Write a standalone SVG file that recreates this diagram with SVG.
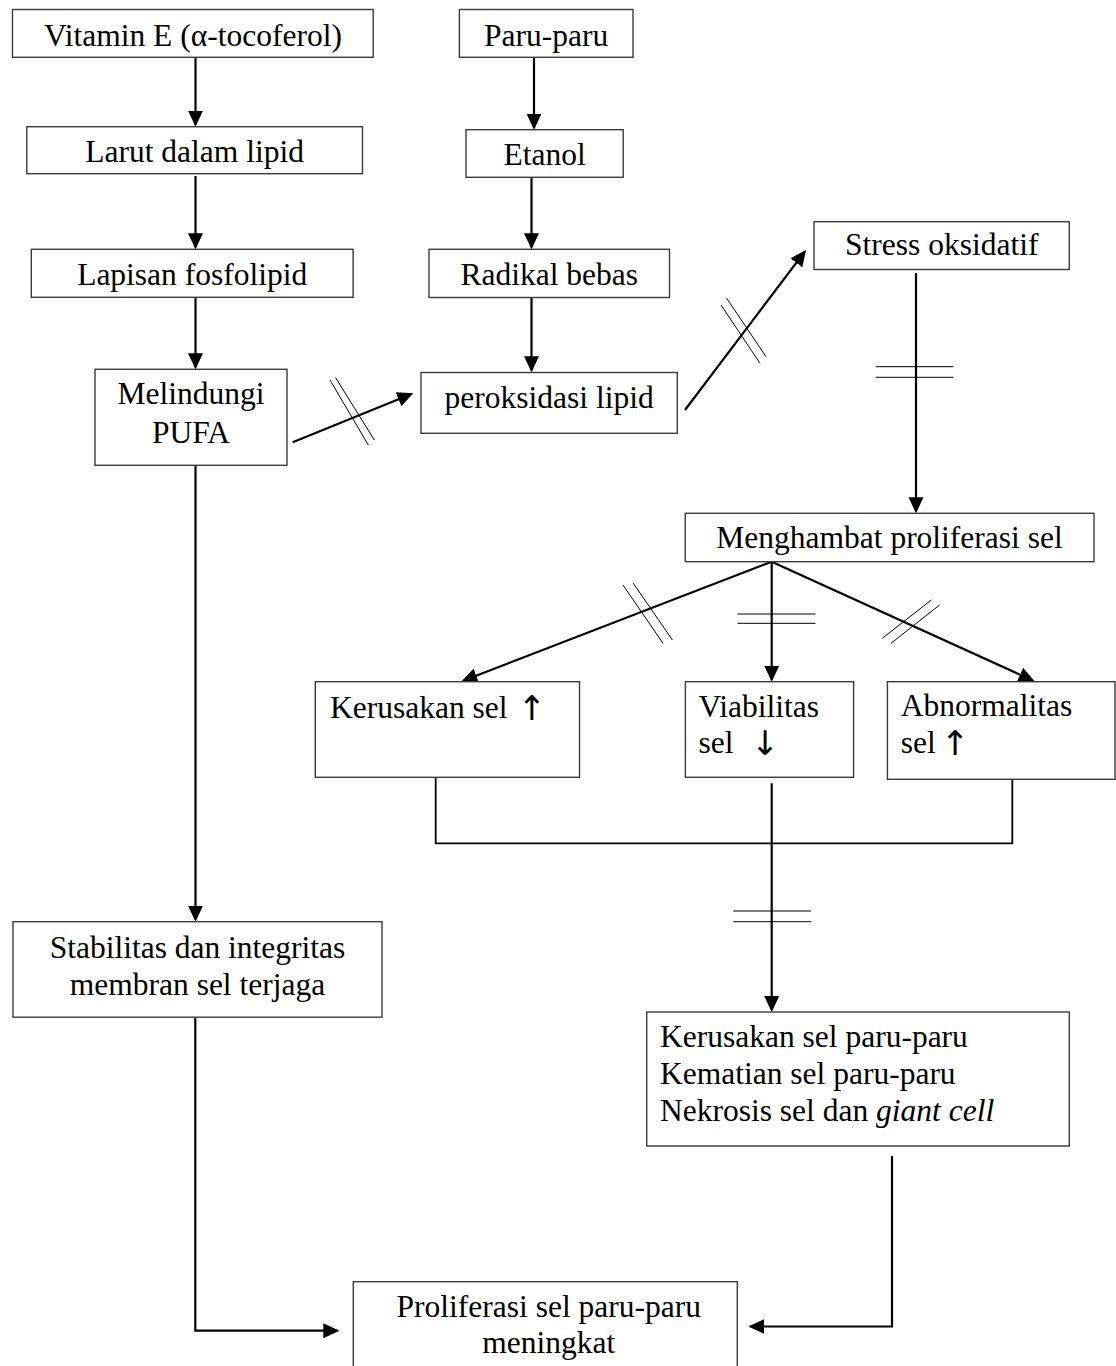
<svg xmlns="http://www.w3.org/2000/svg" width="1116" height="1366" viewBox="0 0 1116 1366">
<style>
  .box { fill: #ffffff; stroke: #3a3a3a; stroke-width: 1.4; }
  .t { font-family: "Liberation Serif", "Times New Roman", serif; font-size: 31.5px; fill: #000; }
  .c { text-anchor: middle; }
  .arw { font-family: "DejaVu Sans", sans-serif; font-size: 34px; }
  .con { fill: none; stroke: #000; stroke-width: 2.2; }
  .br { fill: none; stroke: #000; stroke-width: 1.8; }
  .hatch { fill: none; stroke: #000; stroke-width: 1; }
</style>
<defs>
  <marker id="ah" markerUnits="userSpaceOnUse" markerWidth="18" markerHeight="16" refX="14" refY="7.5" orient="auto">
    <path d="M0,0 L16,7.5 L0,15 z" fill="#000"/>
  </marker>
</defs>
<rect width="1116" height="1366" fill="#ffffff"/>

<g id="connectors">
  <line class="con" x1="195.5" y1="58" x2="195.5" y2="124.7" marker-end="url(#ah)"/>
  <line class="con" x1="195.5" y1="176" x2="195.5" y2="247.3" marker-end="url(#ah)"/>
  <line class="con" x1="195.5" y1="298" x2="195.5" y2="367.3" marker-end="url(#ah)"/>
  <line class="con" x1="195.5" y1="466" x2="195.5" y2="919.7" marker-end="url(#ah)"/>
  <line class="con" x1="534" y1="58" x2="534" y2="127.7" marker-end="url(#ah)"/>
  <line class="con" x1="531.5" y1="178" x2="531.5" y2="247.3" marker-end="url(#ah)"/>
  <line class="con" x1="531.5" y1="298" x2="531.5" y2="370.3" marker-end="url(#ah)"/>
  <line class="con" x1="292.7" y1="442.3" x2="411.5" y2="394" marker-end="url(#ah)"/>
  <line class="con" x1="685" y1="410" x2="804.8" y2="251.6" marker-end="url(#ah)"/>
  <line class="con" x1="916" y1="273" x2="916" y2="511.3" marker-end="url(#ah)"/>
  <line class="con" x1="771.7" y1="561.7" x2="463.2" y2="680.7" marker-end="url(#ah)"/>
  <line class="con" x1="771.7" y1="561.7" x2="771.7" y2="679.7" marker-end="url(#ah)"/>
  <line class="con" x1="771.7" y1="561.7" x2="1032.8" y2="680.5" marker-end="url(#ah)"/>
  <polyline class="br" points="435.7,771 435.7,843.3 1012.3,843.3 1012.3,776"/>
  <line class="con" x1="771.7" y1="783.3" x2="771.7" y2="1010" marker-end="url(#ah)"/>
  <polyline class="con" points="892,1156 892,1326.5 750.3,1326.5" marker-end="url(#ah)"/>
  <polyline class="con" points="195.3,1018 195.3,1330.7 337.3,1330.7" marker-end="url(#ah)"/>

  <g id="hatches">
    <line class="hatch" x1="330" y1="380" x2="368.3" y2="445"/>
    <line class="hatch" x1="335.5" y1="377.5" x2="374.3" y2="440"/>
    <line class="hatch" x1="721" y1="305" x2="760" y2="363.3"/>
    <line class="hatch" x1="726.7" y1="298.3" x2="766" y2="356.7"/>
    <line class="hatch" x1="876" y1="366.7" x2="953.3" y2="366.7"/>
    <line class="hatch" x1="876" y1="377.3" x2="953.3" y2="377.3"/>
    <line class="hatch" x1="623" y1="585" x2="663" y2="643.3"/>
    <line class="hatch" x1="633.3" y1="583.3" x2="672.4" y2="640"/>
    <line class="hatch" x1="737.5" y1="614" x2="815.6" y2="614"/>
    <line class="hatch" x1="737.5" y1="623.3" x2="815.6" y2="623.3"/>
    <line class="hatch" x1="882.3" y1="638.3" x2="931.3" y2="600"/>
    <line class="hatch" x1="891" y1="643.3" x2="939.6" y2="605"/>
    <line class="hatch" x1="733.3" y1="911" x2="811" y2="911"/>
    <line class="hatch" x1="733.3" y1="921.7" x2="811" y2="921.7"/>
  </g>
</g>

<g id="n-vitamin">
  <rect class="box" x="12.5" y="9.5" width="360.7" height="47.8"/>
  <text class="t c" x="192.9" y="45.7">Vitamin E (α-tocoferol)</text>
</g>
<g id="n-larut">
  <rect class="box" x="26.8" y="126.7" width="335.7" height="47"/>
  <text class="t c" x="194.6" y="162.3">Larut dalam lipid</text>
</g>
<g id="n-lapisan">
  <rect class="box" x="31.3" y="249.3" width="321.8" height="48"/>
  <text class="t c" x="192.2" y="285">Lapisan fosfolipid</text>
</g>
<g id="n-melindungi">
  <rect class="box" x="95" y="369.3" width="192" height="96"/>
  <text class="t c" x="191" y="404">Melindungi</text>
  <text class="t c" x="191" y="442.7">PUFA</text>
</g>
<g id="n-paru">
  <rect class="box" x="459.4" y="9.5" width="173.6" height="47.8"/>
  <text class="t c" x="546.2" y="45.7">Paru-paru</text>
</g>
<g id="n-etanol">
  <rect class="box" x="466" y="129.7" width="157.2" height="47.6"/>
  <text class="t c" x="544.6" y="165">Etanol</text>
</g>
<g id="n-radikal">
  <rect class="box" x="429" y="249.3" width="240.5" height="48.2"/>
  <text class="t c" x="549.2" y="285">Radikal bebas</text>
</g>
<g id="n-peroksidasi">
  <rect class="box" x="421" y="372.5" width="256.3" height="60.8"/>
  <text class="t c" x="549.1" y="408.3">peroksidasi lipid</text>
</g>
<g id="n-stress">
  <rect class="box" x="814" y="221.7" width="255.3" height="47.8"/>
  <text class="t c" x="941.7" y="255">Stress oksidatif</text>
</g>
<g id="n-menghambat">
  <rect class="box" x="685.2" y="513.3" width="408.8" height="48.4"/>
  <text class="t c" x="889.5" y="547.7">Menghambat proliferasi sel</text>
</g>
<g id="n-kerusakan">
  <rect class="box" x="315.3" y="681.7" width="264.2" height="95.6"/>
  <text class="t" x="330" y="717.5">Kerusakan sel <tspan class="arw" x="517.5" y="720">↑</tspan></text>
</g>
<g id="n-viabilitas">
  <rect class="box" x="685.4" y="681.7" width="168.2" height="95.6"/>
  <text class="t" x="698.4" y="716.7">Viabilitas</text>
  <text class="t" x="698.4" y="753.3">sel <tspan class="arw" x="750.8" y="755">↓</tspan></text>
</g>
<g id="n-abnormalitas">
  <rect class="box" x="887.4" y="681.7" width="227.6" height="97.6"/>
  <text class="t" x="900.7" y="716.2">Abnormalitas</text>
  <text class="t" x="900.7" y="753.3">sel <tspan class="arw" x="940.8" y="755">↑</tspan></text>
</g>
<g id="n-stabilitas">
  <rect class="box" x="13" y="921.7" width="369" height="95.5"/>
  <text class="t c" x="197.5" y="958">Stabilitas dan integritas</text>
  <text class="t c" x="197.5" y="995">membran sel terjaga</text>
</g>
<g id="n-kerusakan-paru">
  <rect class="box" x="646.7" y="1012" width="422.6" height="134"/>
  <text class="t" x="660" y="1046.7">Kerusakan sel paru-paru</text>
  <text class="t" x="660" y="1083.5">Kematian sel paru-paru</text>
  <text class="t" x="660" y="1120.7">Nekrosis sel dan <tspan font-style="italic">giant cell</tspan></text>
</g>
<g id="n-proliferasi">
  <rect class="box" x="353.3" y="1281.7" width="384" height="90"/>
  <text class="t c" x="548.8" y="1316.7">Proliferasi sel paru-paru</text>
  <text class="t c" x="548.8" y="1353.3">meningkat</text>
</g>
</svg>
